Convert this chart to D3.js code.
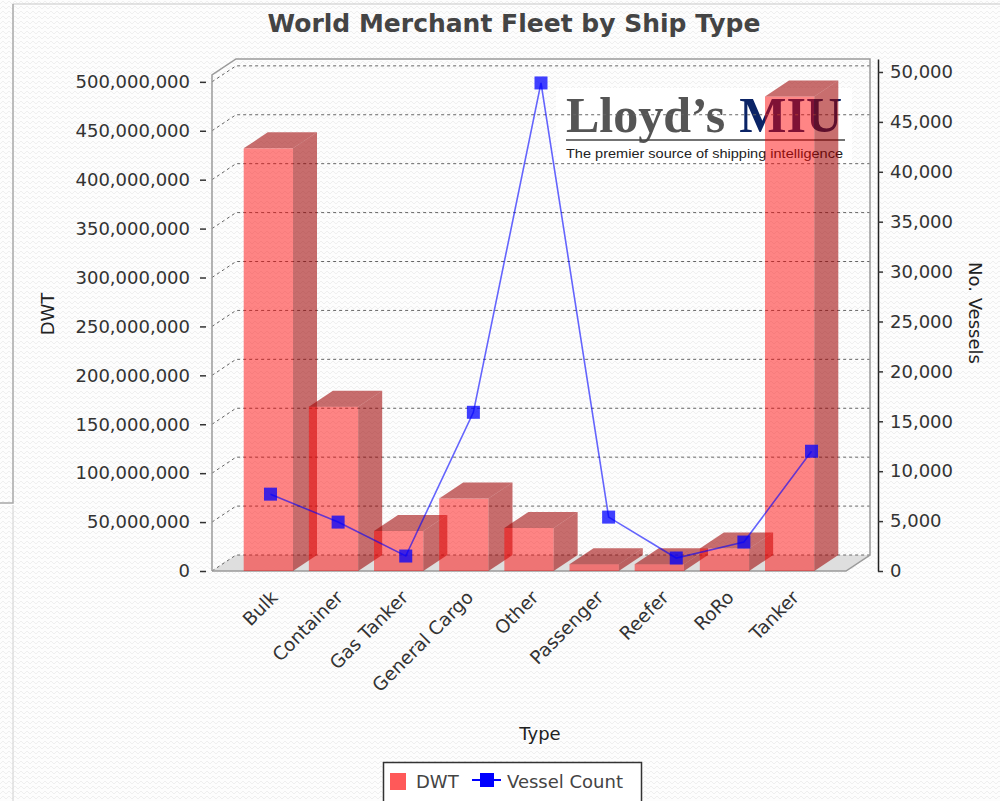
<!DOCTYPE html>
<html>
<head>
<meta charset="utf-8">
<script src="https://cdn.jsdelivr.net/npm/d3@7"></script>
<style>
  html, body { margin: 0; padding: 0; background: #fff; }
  svg { display: block; }
</style>
</head>
<body>
<div id="chart"></div>
<script>
// Chart data
const shipTypes = ["Bulk", "Container", "Gas Tanker", "General Cargo", "Other", "Passenger", "Reefer", "RoRo", "Tanker"];
const dwtValues = [432e6, 168e6, 41e6, 74e6, 44e6, 7e6, 7e6, 23e6, 485e6];
const vesselCounts = [7700, 4900, 1500, 15900, 48900, 5400, 1300, 2900, 12000];
const dwtTicks = [0, 50e6, 100e6, 150e6, 200e6, 250e6, 300e6, 350e6, 400e6, 450e6, 500e6];
const vesselTicks = [0, 5000, 10000, 15000, 20000, 25000, 30000, 35000, 40000, 45000, 50000];
const legendLabels = ["DWT", "Vessel Count"];

document.addEventListener("DOMContentLoaded", function () {
  const width = 1000, height = 801;
  const font = "'DejaVu Sans', sans-serif";

  // front face of the plot box, plus the 3D depth offset
  const plot = { left: 212, right: 846, top: 75, bottom: 571 };
  const dx = 24, dy = -16;

  // category axis like JFreeChart: 5% margins, 20% between categories
  function categoryScale(x0, x1) {
    const w = x1 - x0;
    const inner = (0.2 / 8) / (0.7 / 9 + 0.2 / 8);
    return d3.scaleBand()
      .domain(shipTypes)
      .range([x0 + 0.05 * w, x1 - 0.05 * w])
      .paddingInner(inner)
      .paddingOuter(0);
  }
  const xBar = categoryScale(plot.left, plot.right);
  const xLine = categoryScale(plot.left, plot.right + dx);

  const yDwt = d3.scaleLinear().domain([0, 507e6]).range([plot.bottom, plot.top]);
  const yCount = d3.scaleLinear().domain([0, 51300]).range([plot.bottom, plot.top + dy]);

  const svg = d3.create("svg")
    .attr("width", width)
    .attr("height", height)
    .attr("viewBox", `0 0 ${width} ${height}`);

  // faint zigzag texture of the screenshot background
  const defs = svg.append("defs");
  defs.append("pattern")
    .attr("id", "zigzag")
    .attr("width", 6).attr("height", 5)
    .attr("patternUnits", "userSpaceOnUse")
    .append("path")
    .attr("d", "M0 4 L3 1 L6 4")
    .attr("fill", "none")
    .attr("stroke", "#efefef")
    .attr("stroke-width", 1);

  svg.append("rect").attr("width", width).attr("height", height).attr("fill", "#fdfdfd");
  svg.append("rect").attr("width", width).attr("height", height).attr("fill", "url(#zigzag)");

  // window frame lines
  const frame = svg.append("g").attr("fill", "none");
  frame.append("path").attr("d", "M13 4 H1000").attr("stroke", "#c8c8c8");
  frame.append("path").attr("d", "M13 4 V503 H0").attr("stroke", "#a8a8a8").attr("stroke-width", 1.5);
  frame.append("path").attr("d", "M13 505 V801").attr("stroke", "#d0d0d0");

  // title
  svg.append("text")
    .attr("x", 514).attr("y", 32)
    .attr("text-anchor", "middle")
    .style("font", `bold 25px ${font}`)
    .attr("fill", "#444")
    .text("World Merchant Fleet by Ship Type");

  // floor of the 3D box
  svg.append("path")
    .attr("d", `M${plot.left},${plot.bottom} L${plot.right},${plot.bottom} L${plot.right + dx},${plot.bottom + dy} L${plot.left + dx},${plot.bottom + dy}Z`)
    .attr("fill", "#dedede");

  // logo in the plot background
  const logo = svg.append("g");
  logo.append("rect").attr("x", 556).attr("y", 88).attr("width", 296).attr("height", 76).attr("fill", "#fff");
  logo.append("text")
    .attr("x", 566).attr("y", 132)
    .style("font", "bold 50px 'Liberation Serif', serif")
    .attr("fill", "#555")
    .text("Lloyd\u2019s")
    .append("tspan")
    .attr("dx", 14)
    .attr("fill", "#0b2466")
    .text("MIU");
  logo.append("path").attr("d", "M566 140 H845").attr("stroke", "#444").attr("stroke-width", 1.5);
  logo.append("text")
    .attr("x", 566).attr("y", 158)
    .attr("textLength", 277)
    .attr("lengthAdjust", "spacingAndGlyphs")
    .style("font", "13.5px 'Liberation Sans', sans-serif")
    .attr("fill", "#222")
    .text("The premier source of shipping intelligence");

  // dashed gridlines on left and back walls
  svg.append("g")
    .selectAll("path")
    .data(dwtTicks)
    .join("path")
    .attr("d", d => `M${plot.left},${yDwt(d)} L${plot.left + dx},${yDwt(d) + dy} L${plot.right + dx},${yDwt(d) + dy}`)
    .attr("fill", "none")
    .attr("stroke", "#666")
    .attr("stroke-width", 1)
    .attr("stroke-dasharray", "3,3");

  // outline of the 3D box
  svg.append("path")
    .attr("d", `M${plot.left},${plot.bottom} V${plot.top} L${plot.left + dx},${plot.top + dy} H${plot.right + dx} V${plot.bottom + dy} L${plot.right},${plot.bottom} H${plot.left}`)
    .attr("fill", "none")
    .attr("stroke", "#9a9a9a")
    .attr("stroke-width", 1.5);

  // 3D bars
  const bw = xBar.bandwidth();
  const bars = svg.append("g")
    .selectAll("g")
    .data(shipTypes.map((t, i) => ({ type: t, value: dwtValues[i] })))
    .join("g");

  bars.append("rect")
    .attr("x", d => xBar(d.type))
    .attr("y", d => yDwt(d.value))
    .attr("width", bw)
    .attr("height", d => plot.bottom - yDwt(d.value))
    .attr("fill", "rgb(255,0,0)")
    .attr("fill-opacity", 0.48);

  bars.append("path")
    .attr("d", d => {
      const x = xBar(d.type) + bw, y = yDwt(d.value);
      return `M${x},${y} L${x + dx},${y + dy} L${x + dx},${plot.bottom + dy} L${x},${plot.bottom}Z`;
    })
    .attr("fill", "rgb(158,0,0)")
    .attr("fill-opacity", 0.57);

  bars.append("path")
    .attr("d", d => {
      const x = xBar(d.type), y = yDwt(d.value);
      return `M${x},${y} L${x + dx},${y + dy} L${x + bw + dx},${y + dy} L${x + bw},${y}Z`;
    })
    .attr("fill", "rgb(158,0,0)")
    .attr("fill-opacity", 0.57);

  // vessel count line
  const lineX = t => xLine(t) + xLine.bandwidth() / 2;
  const points = shipTypes.map((t, i) => ({ type: t, value: vesselCounts[i] }));

  svg.append("path")
    .datum(points)
    .attr("d", d3.line().x(d => lineX(d.type)).y(d => yCount(d.value)))
    .attr("fill", "none")
    .attr("stroke", "rgb(0,0,255)")
    .attr("stroke-opacity", 0.6)
    .attr("stroke-width", 1.6);

  svg.append("g")
    .selectAll("rect")
    .data(points)
    .join("rect")
    .attr("x", d => lineX(d.type) - 6.5)
    .attr("y", d => yCount(d.value) - 6.5)
    .attr("width", 13)
    .attr("height", 13)
    .attr("fill", "rgb(0,0,255)")
    .attr("fill-opacity", 0.75);

  // left axis (DWT)
  const leftAxis = svg.append("g")
    .attr("transform", "translate(206,0)")
    .call(d3.axisLeft(yDwt).tickValues(dwtTicks).tickFormat(d3.format(",")).tickSize(6).tickPadding(10));
  leftAxis.select(".domain").remove();

  // right axis (vessels)
  const rightAxis = svg.append("g")
    .attr("transform", "translate(878,0)")
    .call(d3.axisRight(yCount).tickValues(vesselTicks).tickFormat(d3.format(",")).tickSize(5).tickSizeOuter(0).tickPadding(7));
  rightAxis.select(".domain").attr("stroke", "#222").attr("stroke-width", 1.5);

  svg.selectAll(".tick line").attr("stroke", "#333").attr("stroke-width", 1.5);
  svg.selectAll(".tick text")
    .style("font", `18px ${font}`)
    .attr("fill", "#333");

  // category labels, rotated 45 degrees
  svg.append("g")
    .selectAll("text")
    .data(shipTypes)
    .join("text")
    .attr("transform", d => `translate(${xBar(d) + bw / 2 + 6},594) rotate(-45)`)
    .attr("text-anchor", "end")
    .attr("dy", "0.35em")
    .style("font", `18.5px ${font}`)
    .attr("fill", "#333")
    .text(d => d);

  // axis titles
  svg.append("text")
    .attr("transform", "translate(54,314) rotate(-90)")
    .attr("text-anchor", "middle")
    .style("font", `18px ${font}`)
    .attr("fill", "#222")
    .text("DWT");

  svg.append("text")
    .attr("transform", "translate(969,313) rotate(90)")
    .attr("text-anchor", "middle")
    .style("font", `18px ${font}`)
    .attr("fill", "#222")
    .text("No. Vessels");

  svg.append("text")
    .attr("x", 540).attr("y", 740)
    .attr("text-anchor", "middle")
    .style("font", `18px ${font}`)
    .attr("fill", "#222")
    .text("Type");

  // legend
  const legend = svg.append("g");
  legend.append("rect")
    .attr("x", 383.5).attr("y", 762.5)
    .attr("width", 258).attr("height", 50)
    .attr("fill", "#fff")
    .attr("stroke", "#333")
    .attr("stroke-width", 1.5);
  legend.append("rect")
    .attr("x", 390).attr("y", 773)
    .attr("width", 16).attr("height", 17)
    .attr("fill", "rgb(255,0,0)")
    .attr("fill-opacity", 0.65);
  legend.append("text")
    .attr("x", 416).attr("y", 788)
    .style("font", `18px ${font}`)
    .attr("fill", "#444")
    .text(legendLabels[0]);
  legend.append("path")
    .attr("d", "M472 780 H501")
    .attr("stroke", "rgb(0,0,255)")
    .attr("stroke-width", 2);
  legend.append("rect")
    .attr("x", 480).attr("y", 773)
    .attr("width", 14).attr("height", 14)
    .attr("fill", "rgb(0,0,255)");
  legend.append("text")
    .attr("x", 507).attr("y", 788)
    .style("font", `18px ${font}`)
    .attr("fill", "#444")
    .text(legendLabels[1]);

  document.getElementById("chart").appendChild(svg.node());
});
</script>
</body>
</html>
